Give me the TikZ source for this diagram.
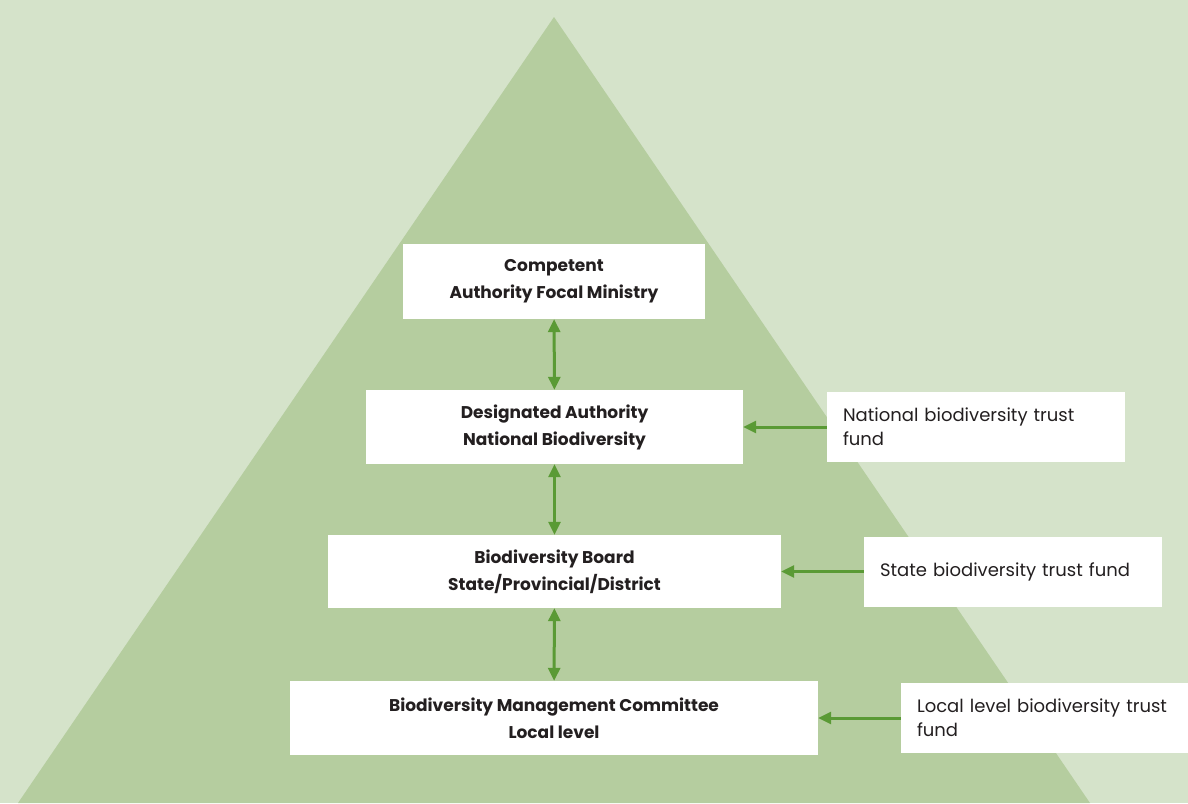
\documentclass[tikz,border=0pt]{standalone}
\usepackage{fontspec}
\setmainfont{Poppins}
\usepackage{tikz}
\usetikzlibrary{arrows.meta}
\definecolor{bgcol}{HTML}{D5E3CA}
\definecolor{pyrcol}{HTML}{B5CD9F}
\definecolor{arrcol}{HTML}{5A9A35}
\definecolor{txtcol}{HTML}{231F20}
\begin{document}
\begin{tikzpicture}
[every node/.style={inner sep=0pt, text=txtcol},
 level/.style={rectangle, fill=white, align=center, font=\fontsize{17}{27}\selectfont\bfseries},
 fund/.style={rectangle, fill=white, align=left, inner xsep=16pt, text width=266pt, minimum height=70pt, font=\fontsize{18}{24}\selectfont},
 link/.style={line width=3pt, color=arrcol, arrows={-Triangle[length=13pt, width=12pt]}},
 biglink/.style={link, arrows={Triangle[length=13pt, width=12pt]-Triangle[length=13pt, width=12pt]}}]
\clip (0pt, 0pt) rectangle (1188pt, -803pt);
\fill [bgcol] (0pt, 0pt) rectangle (1188pt, -803pt);
\fill [pyrcol] (554pt, -17pt) -- (18pt, -803pt) -- (1090pt, -803pt) -- cycle;
\node (1) [level, minimum width=302pt, minimum height=75pt] at (554pt, -281.5pt) {Competent\\Authority Focal Ministry};
\node (2) [level, minimum width=377pt, minimum height=74pt] at (554.5pt, -427pt) {Designated Authority\\National Biodiversity};
\node (3) [level, minimum width=453pt, minimum height=73pt] at (554.5pt, -571.5pt) {Biodiversity Board\\State/Provincial/District};
\node (4) [level, minimum width=528pt, minimum height=74pt] at (554pt, -718pt) {Biodiversity Management Committee\\Local level};
\node (a) [fund] at (976pt, -427pt) {National biodiversity trust fund};
\node (b) [fund] at (1013pt, -571.5pt) {State biodiversity trust fund};
\node (c) [fund] at (1050pt, -718pt) {Local level biodiversity trust fund};
\draw [biglink] (1) to (2);
\draw [biglink] (2) to (3);
\draw [biglink] (3) to (4);
\draw [link] (a) to (2);
\draw [link] (b) to (3);
\draw [link] (c) to (4);
\end{tikzpicture}
\end{document}
